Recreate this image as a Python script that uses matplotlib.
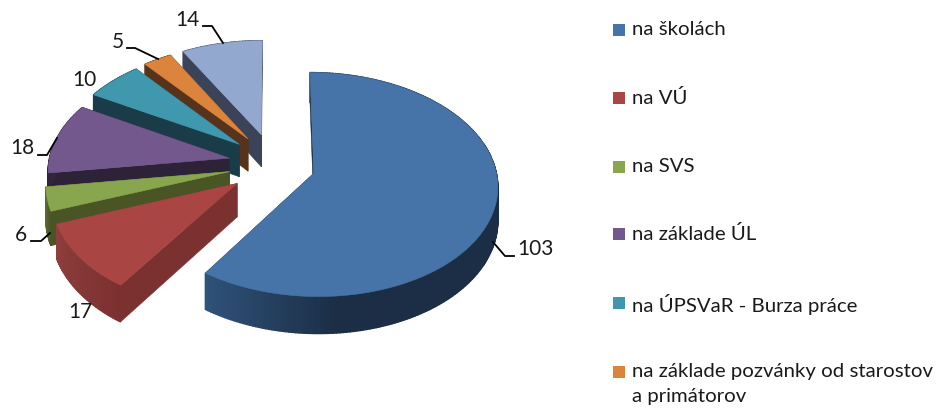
import numpy as np
import matplotlib
matplotlib.use('Agg')
from matplotlib import pyplot as plt
from matplotlib.patches import Polygon, Rectangle

labels = ['na školách', 'na VÚ', 'na SVS', 'na základe ÚL', 'na ÚPSVaR - Burza práce',
          'na základe pozvánky od starostov\na primátorov']
values = [103, 17, 6, 18, 10, 5, 14]
colors = ['#4674A8', '#A94644', '#88A64D', '#73588E', '#3F98AE', '#DC843B', '#93A8CF']
side_colors = ['#1B2E46', '#7B3130', '#4A5526', '#2E2239', '#1A3C48', '#56331A', '#3A4358']
arc_light = ['#2F5279', '#8F3F3D', '#5C6A30', '#3A2C48', '#1A3C48', '#56331A', '#3A4358']
legend_colors = ['#4674A8', '#A94644', '#88A64D', '#73588E', '#3F98AE', '#DC843B']

# where the numbers sit (pixels) and the elbow lines that tie them to the slices
label_pos = [(535, 249), (80, 312), (21, 235), (22, 148), (84, 80), (118, 42), (187, 20)]
leaders = [[(493, 242), (505, 256), (514, 256)], None, [(50, 233), (41, 241), (31, 241)],
           [(57, 138), (47, 155), (38, 155)], None, [(158, 59), (135, 48), (127, 48)],
           [(223, 43), (212, 26), (203, 26)]]
legend_y = [30, 98, 167, 234, 303, 372]

# fake 3d view of the pie
cx, cy = 272, 164
rx, ry = 181, 109
persp = 0.10
exp_x, exp_y = 0.24, 0.285
depth = 33


def project(px, py, z=0.0):
    s = 1 / (1 + persp * py)
    return cx + rx * px * s, cy - ry * py * s + depth * z * s


def mix(c1, c2, t):
    a = np.array(matplotlib.colors.to_rgb(c1))
    b = np.array(matplotlib.colors.to_rgb(c2))
    return a + (b - a) * t


fig = plt.figure(figsize=(9.42, 4.09), dpi=100)
ax = fig.add_axes([0, 0, 1, 1])
ax.set_xlim(0, 942)
ax.set_ylim(409, 0)
ax.axis('off')

plt.rcParams['font.family'] = ['Lato', 'DejaVu Sans']

edges = np.concatenate([[0], np.cumsum(values)]) / sum(values) * 2 * np.pi
# back slices first, the big one last
order = [6, 5, 4, 3, 2, 1, 0]
for i in order:
    t0, t1 = edges[i], edges[i + 1]
    mid = (t0 + t1) / 2
    ox, oy = exp_x * np.sin(mid), exp_y * np.cos(mid)
    th = np.linspace(t0, t1, max(int((t1 - t0) * 60), 8))
    ax_x = ox + np.sin(th)
    ax_y = oy + np.cos(th)

    # radial walls
    for t in (t0, t1):
        a = project(ox, oy)
        b = project(ox + np.sin(t), oy + np.cos(t))
        c = project(ox + np.sin(t), oy + np.cos(t), 1)
        d = project(ox, oy, 1)
        ax.add_patch(Polygon([a, b, c, d], closed=True, fc=side_colors[i], ec=side_colors[i], lw=0.4))

    # outer wall, shaded in strips, thick edges so no seams show
    for k in range(len(th) - 1):
        p1 = project(ax_x[k], ax_y[k])
        p2 = project(ax_x[k + 1], ax_y[k + 1])
        p3 = project(ax_x[k + 1], ax_y[k + 1], 1)
        p4 = project(ax_x[k], ax_y[k], 1)
        if i == 0:
            # lighter at the left end of the front, dark towards the right
            col = mix(arc_light[i], side_colors[i], np.clip((p1[0] - 207) / 130, 0, 1))
        else:
            col = mix(side_colors[i], arc_light[i], k / (len(th) - 1))
        ax.add_patch(Polygon([p1, p2, p3, p4], closed=True, fc=col, ec=col, lw=1.0))

    # top face
    top = [project(ox, oy)] + [project(x, y) for x, y in zip(ax_x, ax_y)]
    ax.add_patch(Polygon(top, closed=True, fc=colors[i], ec=colors[i], lw=0.4))

# number labels
for v, pos, lead in zip(values, label_pos, leaders):
    ax.text(pos[0], pos[1], str(v), ha='center', va='center', fontsize=15, color='#1a1a1a')
    if lead is not None:
        ax.plot([p[0] for p in lead], [p[1] for p in lead], color='black', lw=1.3)

# legend
for name, col, y in zip(labels, legend_colors, legend_y):
    ax.add_patch(Rectangle((613, y - 6), 12, 12, fc=col, ec='none'))
    ax.text(632, y - 9, name, ha='left', va='top', fontsize=14.7, color='#1a1a1a', linespacing=1.6)

fig.savefig('out.png', dpi=100)
